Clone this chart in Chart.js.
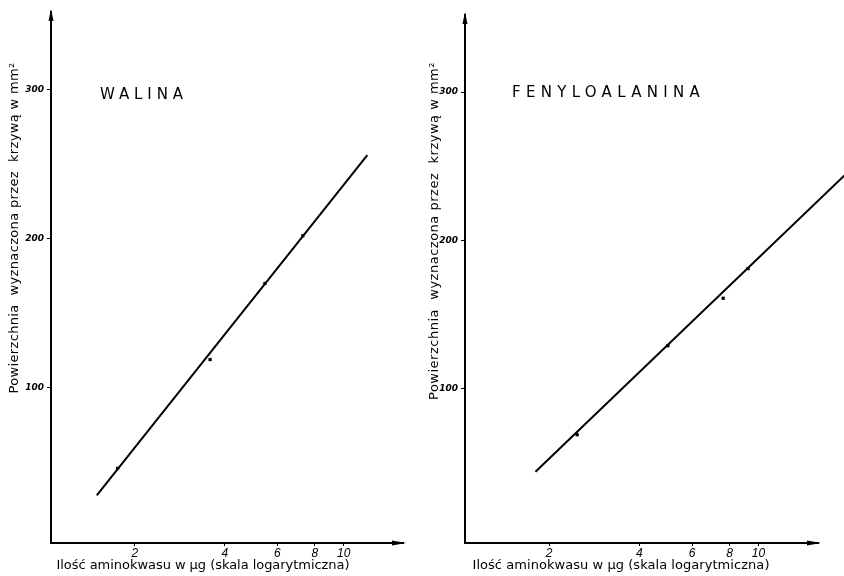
<!DOCTYPE html>
<html>
<head>
<meta charset="utf-8">
<script src="https://cdn.jsdelivr.net/npm/chart.js@4.4.0/dist/chart.umd.min.js"></script>
<style>
html, body { margin: 0; padding: 0; background: #fff; }
#wrap { position: relative; width: 844px; height: 576px; }
.panel { position: absolute; top: 0; width: 422px; height: 576px; }
</style>
</head>
<body>
<div id="wrap">
  <div class="panel" style="left:0"><canvas id="walina" width="422" height="576"></canvas></div>
  <div class="panel" style="left:422px"><canvas id="fenyl" width="422" height="576"></canvas></div>
</div>
<script>
// tick values (x is log scale)
var xTicks = [2, 4, 6, 8, 10];
var yTicks = [100, 200, 300];

// Walina: measured points + the drawn straight line
var walinaX = [1.75, 3.57, 5.45, 7.3];
var walinaY = [46, 119, 170, 202];
var walinaLineX = [1.49, 12.0];
var walinaLineY = [28, 256];

// Fenyloalanina
var fenylX = [2.48, 4.98, 7.62, 9.23];
var fenylY = [69, 129, 161, 181];
var fenylLineX = [1.80, 19.4];
var fenylLineY = [44, 244];

var yTitle = 'Powierzchnia  wyznaczona przez  krzywą w mm²';
var xTitle = 'Ilość aminokwasu w μg (skala logarytmiczna)';

function pairs(xs, ys) {
    return xs.map(function (x, i) { return { x: x, y: ys[i] }; });
}

// draws text squeezed/stretched to a given width using letter spacing
function spacedText(ctx, text, x, y, width, align) {
    ctx.letterSpacing = '0px';
    var w = ctx.measureText(text).width;
    var n = Array.from(text).length;
    ctx.letterSpacing = ((width - w) / n) + 'px';
    ctx.textAlign = align;
    ctx.fillText(text, x, y);
    ctx.letterSpacing = '0px';
}

// arrows on the axes, panel name and the axis titles
var decor = {
    id: 'decor',
    afterDraw: function (chart, args, o) {
        var ctx = chart.ctx;
        var a = chart.chartArea;
        ctx.save();
        ctx.fillStyle = '#000';
        // y arrow
        ctx.beginPath();
        ctx.moveTo(a.left, a.top - 3);
        ctx.lineTo(a.left - 2.5, a.top + 9);
        ctx.lineTo(a.left + 2.5, a.top + 9);
        ctx.closePath();
        ctx.fill();
        // x arrow
        ctx.beginPath();
        ctx.moveTo(a.right + 3, a.bottom);
        ctx.lineTo(a.right - 11, a.bottom - 2.5);
        ctx.lineTo(a.right - 11, a.bottom + 2.5);
        ctx.closePath();
        ctx.fill();

        ctx.textBaseline = 'middle';
        ctx.font = '15px "DejaVu Sans", sans-serif';
        spacedText(ctx, o.name, o.nameX, o.nameY, o.nameW, 'left');

        ctx.font = '13px "DejaVu Sans", sans-serif';
        spacedText(ctx, xTitle, o.xtX, o.xtY, o.xtW, 'center');

        ctx.translate(o.ytX, o.ytY);
        ctx.rotate(-Math.PI / 2);
        spacedText(ctx, yTitle, 0, 0, o.ytW, 'center');
        ctx.restore();
    }
};

function makeChart(id, pts, line, geom, deco) {
    var ctx = document.getElementById(id).getContext('2d');
    return new Chart(ctx, {
        type: 'scatter',
        data: {
            datasets: [{
                data: pairs(line[0], line[1]),
                showLine: true,
                borderColor: '#000',
                borderWidth: 2,
                pointRadius: 0,
                clip: false
            }, {
                data: pairs(pts[0], pts[1]),
                pointStyle: 'rect',
                pointRadius: 2.3,
                backgroundColor: '#000',
                borderColor: '#000',
                borderWidth: 0
            }]
        },
        options: {
            responsive: false,
            animation: false,
            layout: { padding: { left: 0, top: geom.top, right: geom.right, bottom: 13 } },
            plugins: {
                legend: { display: false },
                tooltip: { enabled: false },
                decor: deco
            },
            scales: {
                x: {
                    type: 'logarithmic',
                    min: 1.047,
                    max: 15.8,
                    afterBuildTicks: function (s) { s.ticks = xTicks.map(function (v) { return { value: v }; }); },
                    afterFit: function (s) { s.height = 20; },
                    border: { display: true, color: '#000', width: 2 },
                    grid: { drawOnChartArea: false, tickLength: 3, color: '#000' },
                    ticks: {
                        color: '#000',
                        autoSkip: false,
                        maxRotation: 0,
                        padding: 0,
                        font: { family: '"Liberation Sans", sans-serif', style: 'italic', size: 12 },
                        callback: function (v) { return String(v); }
                    }
                },
                y: {
                    min: -4,
                    max: 352,
                    afterBuildTicks: function (s) { s.ticks = yTicks.map(function (v) { return { value: v }; }); },
                    afterFit: function (s) { s.width = geom.yw; },
                    border: { display: true, color: '#000', width: 2 },
                    grid: { drawOnChartArea: false, tickLength: 4, color: '#000' },
                    ticks: {
                        color: '#000',
                        padding: 3,
                        font: { family: '"DejaVu Sans", sans-serif', style: 'italic', weight: 'bold', size: 9 }
                    }
                }
            }
        },
        plugins: [decor]
    });
}

makeChart('walina', [walinaX, walinaY], [walinaLineX, walinaLineY],
    { top: 12, right: 19, yw: 51 },
    { name: 'WALINA', nameX: 100, nameY: 95, nameW: 88,
      xtX: 203, xtY: 566, xtW: 293, ytX: 15, ytY: 228, ytW: 331 });

makeChart('fenyl', [fenylX, fenylY], [fenylLineX, fenylLineY],
    { top: 15, right: 26, yw: 43 },
    { name: 'FENYLOALANINA', nameX: 90, nameY: 93, nameW: 193,
      xtX: 199, xtY: 566, xtW: 297, ytX: 13, ytY: 231, ytW: 338 });
</script>
</body>
</html>
